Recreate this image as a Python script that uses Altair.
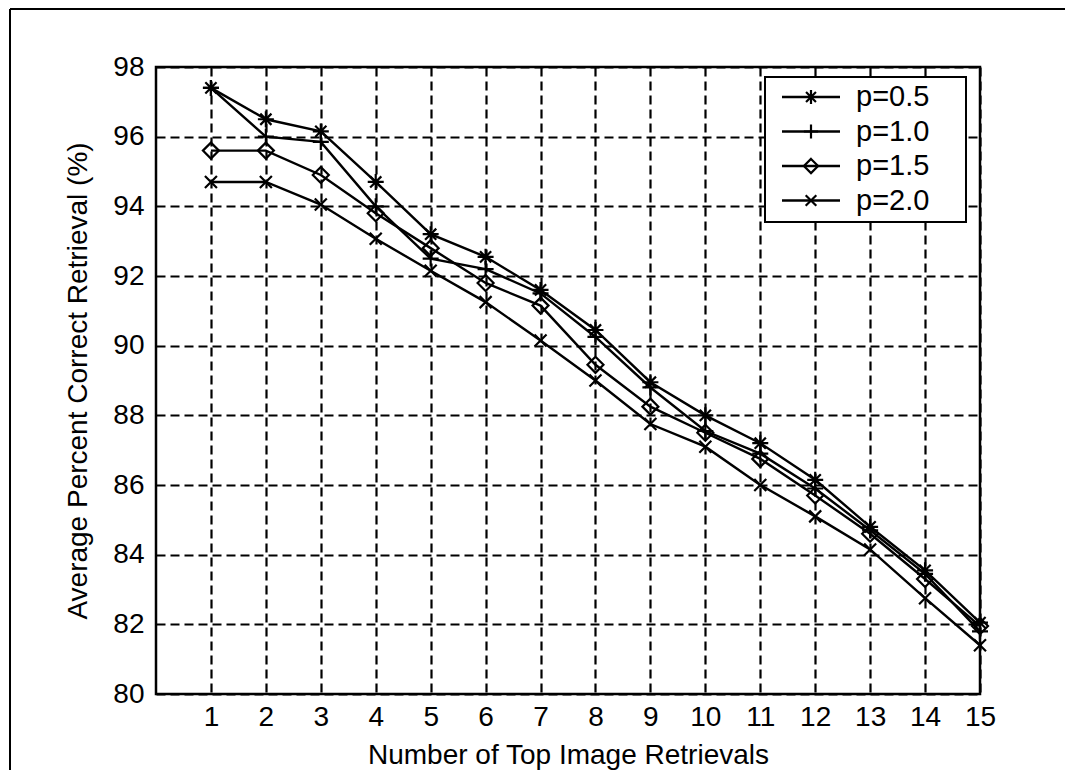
import altair as alt
import pandas as pd

x_vals = list(range(1, 16))
series_names = ["p=0.5", "p=1.0", "p=1.5", "p=2.0"]
p05 = [97.4, 96.5, 96.15, 94.7, 93.2, 92.55, 91.6, 90.45, 88.95, 88.0, 87.2, 86.15, 84.8, 83.55, 82.05]
p10 = [97.4, 96.0, 95.85, 94.0, 92.5, 92.2, 91.5, 90.25, 88.8, 87.55, 86.9, 85.9, 84.7, 83.45, 81.8]
p15 = [95.6, 95.6, 94.9, 93.8, 92.8, 91.8, 91.15, 89.45, 88.25, 87.5, 86.75, 85.7, 84.6, 83.3, 81.95]
p20 = [94.7, 94.7, 94.05, 93.07, 92.15, 91.25, 90.15, 89.0, 87.75, 87.1, 86.0, 85.1, 84.15, 82.75, 81.4]
y_ticks = [80, 82, 84, 86, 88, 90, 92, 94, 96, 98]

# marker shapes (MATLAB-like: *, +, diamond, x)
ASTER = "M-1,0L1,0M0,-1L0,1M-0.7,-0.7L0.7,0.7M-0.7,0.7L0.7,-0.7"
PLUS = "M-1,0L1,0M0,-1L0,1"
DIAM = "M0,-1L1,0L0,1L-1,0Z"
XMARK = "M-0.75,-0.75L0.75,0.75M-0.75,0.75L0.75,-0.75"
marker_paths = [ASTER, PLUS, DIAM, XMARK]

rows = []
for name, vals in zip(series_names, [p05, p10, p15, p20]):
    for xv, yv in zip(x_vals, vals):
        rows.append({"x": xv, "y": yv, "series": name})
df = pd.DataFrame(rows)

FONT = "Liberation Sans"
W, H = 824, 627

xenc = alt.X("x:Q", scale=alt.Scale(domain=[0, 15], nice=False),
             axis=alt.Axis(values=x_vals, title="Number of Top Image Retrievals",
                           grid=True, ticks=False, domain=False, labelPadding=9,
                           titlePadding=10, labelFlush=False))
yenc = alt.Y("y:Q", scale=alt.Scale(domain=[80, 98], nice=False, zero=False),
             axis=alt.Axis(values=y_ticks, title="Average Percent Correct Retrieval (%)",
                           grid=True, ticks=False, domain=False, labelPadding=12,
                           titlePadding=20, labelFlush=False))

lines = alt.Chart(df).mark_line(color="black", strokeWidth=2.4).encode(
    x=xenc, y=yenc, detail="series:N")

points = alt.Chart(df).mark_point(filled=False, color="black", strokeWidth=2.2, size=256, opacity=1).encode(
    x="x:Q", y="y:Q",
    shape=alt.Shape("series:N", scale=alt.Scale(domain=series_names, range=marker_paths), legend=None))

# manual MATLAB-style legend
leg_df = pd.DataFrame({"name": series_names, "path": marker_paths, "row": [0, 1, 2, 3]})
leg_base = alt.Chart(leg_df).transform_calculate(ly="30 + datum.row * 34.5")
leg_box = alt.Chart(alt.Data(values=[{}])).mark_rect(fill="white", stroke="black", strokeWidth=2).encode(
    x=alt.value(609), x2=alt.value(810), y=alt.value(10), y2=alt.value(155))
leg_rule = leg_base.mark_rule(color="black", strokeWidth=2.4).encode(
    x=alt.value(626), x2=alt.value(684), y=alt.Y("ly:Q", scale=None))
leg_pts = leg_base.mark_point(filled=False, color="black", strokeWidth=2.2, size=200, opacity=1).encode(
    x=alt.value(655), y=alt.Y("ly:Q", scale=None), shape=alt.Shape("path:N", scale=None))
leg_txt = leg_base.mark_text(align="left", baseline="middle", font=FONT, fontSize=29, color="black").encode(
    x=alt.value(700), y=alt.Y("ly:Q", scale=None), text="name:N")

# outer figure frame (left and top edges)
frame_left = alt.Chart(alt.Data(values=[{}])).mark_rule(color="black", strokeWidth=2).encode(
    x=alt.value(-146), y=alt.value(-58), y2=alt.value(703))
frame_top = alt.Chart(alt.Data(values=[{}])).mark_rule(color="black", strokeWidth=2).encode(
    x=alt.value(-146), x2=alt.value(909), y=alt.value(-58))

chart = alt.layer(lines, points, leg_box, leg_rule, leg_pts, leg_txt, frame_left, frame_top).properties(
    width=W, height=H,
    autosize=alt.AutoSizeParams(type="none"),
    padding={"left": 148, "top": 59, "right": 85, "bottom": 76},
    background="white",
).configure_view(
    stroke="black", strokeWidth=2.5
).configure_axis(
    labelFont=FONT, titleFont=FONT, labelFontSize=28, titleFontSize=28,
    labelColor="black", titleColor="black", titleFontWeight="normal",
    gridColor="black", gridDash=[9, 5], gridWidth=2.2, gridOpacity=1,
)

chart.save("out.html", embed_options={"renderer": "svg", "actions": False})
